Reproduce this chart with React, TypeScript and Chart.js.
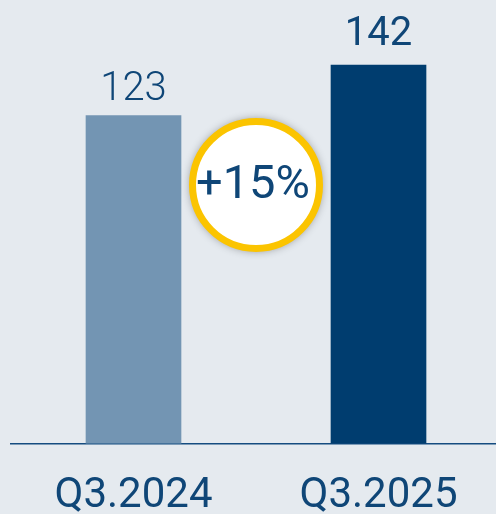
import React, { useEffect, useRef } from "react";
import { Chart, registerables } from "chart.js";

Chart.register(...registerables);

const categories = ["Q3.2024", "Q3.2025"];
const values = [123, 142];
const valueLabels = ["123", "142"];
const barColors = ["#7395b3", "#003d6f"];
const changeLabel = "+15%";
const badgeValue = 97;

const TEXT = "#0f4677";
const FONT = "Roboto, 'Noto Sans', sans-serif";

const overlayPlugin = {
  id: "overlay",
  afterDatasetsDraw(chart: any) {
    const ctx = chart.ctx as CanvasRenderingContext2D;
    const meta = chart.getDatasetMeta(0);
    const bars = meta.data;
    bars.forEach((bar: any, i: number) => {
      ctx.save();
      ctx.fillStyle = TEXT;
      ctx.textAlign = "center";
      ctx.textBaseline = "alphabetic";
      ctx.font = (i === 1 ? "400 " : "300 ") + "40px " + FONT;
      ctx.fillText(valueLabels[i], bar.x, bar.y - (i === 1 ? 20 : 16));
      ctx.restore();
    });
    const cx = (bars[0].x + bars[1].x) / 2;
    const cy = chart.scales.y.getPixelForValue(badgeValue);
    ctx.save();
    ctx.beginPath();
    ctx.arc(cx, cy, 65, 0, Math.PI * 2);
    ctx.fillStyle = "#ffffff";
    ctx.shadowColor = "rgba(0,0,0,0.45)";
    ctx.shadowBlur = 10;
    ctx.fill();
    ctx.restore();
    ctx.save();
    ctx.beginPath();
    ctx.arc(cx, cy, 63.5, 0, Math.PI * 2);
    ctx.lineWidth = 7;
    ctx.strokeStyle = "#fbc400";
    ctx.stroke();
    ctx.fillStyle = TEXT;
    ctx.textAlign = "center";
    ctx.textBaseline = "middle";
    ctx.font = "400 47px " + FONT;
    ctx.fillText(changeLabel, cx - 3, cy + 1);
    ctx.restore();
  },
};

const bgPlugin = {
  id: "bg",
  beforeDraw(chart: any) {
    const ctx = chart.ctx;
    ctx.save();
    ctx.fillStyle = "#e5eaef";
    ctx.fillRect(0, 0, chart.width, chart.height);
    ctx.restore();
  },
};

export default function App() {
  const ref = useRef<HTMLCanvasElement>(null);
  useEffect(() => {
    if (!ref.current) return;
    const chart = new Chart(ref.current, {
      type: "bar",
      data: {
        labels: categories,
        datasets: [
          {
            data: values,
            backgroundColor: barColors,
            barThickness: 95,
            borderWidth: 0,
          },
        ],
      },
      options: {
        animation: false,
        responsive: false,
        maintainAspectRatio: false,
        layout: { padding: { left: 11, top: 17, right: 0, bottom: 0 } },
        plugins: { legend: { display: false }, tooltip: { enabled: false } },
        scales: {
          y: { display: false, min: 0, max: 160 },
          x: {
            grid: { display: false, drawTicks: false },
            border: { display: true, color: "#154c80", width: 1.5 },
            ticks: {
              color: TEXT,
              padding: 28,
              font: { family: FONT, size: 42, weight: "400", lineHeight: 1.2 },
            },
          },
        },
      },
      plugins: [bgPlugin, overlayPlugin],
    });
    return () => chart.destroy();
  }, []);
  return (
    <div
      style={{
        position: "absolute",
        left: 0,
        top: 0,
        width: 496,
        height: 514,
        overflow: "hidden",
        background: "#e5eaef",
      }}
    >
      <canvas ref={ref} width={501} height={550} style={{ display: "block" }} />
    </div>
  );
}
